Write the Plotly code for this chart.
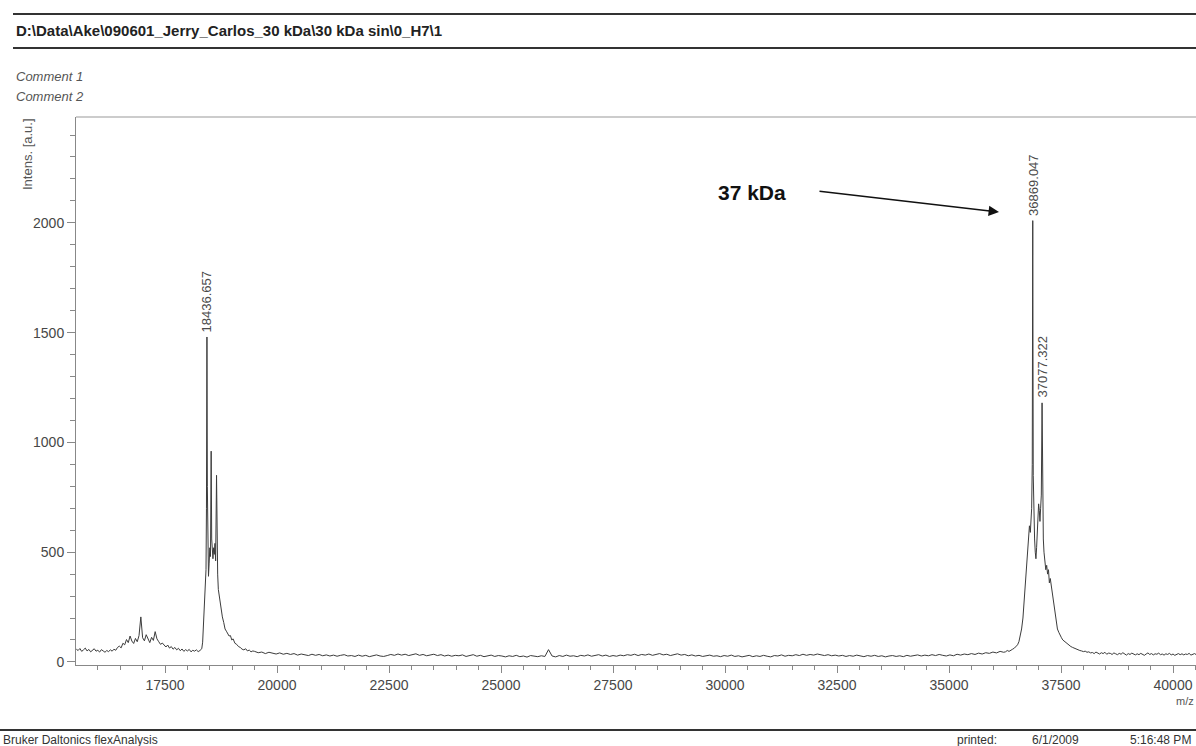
import plotly.graph_objects as go

# ---------------- data ----------------
# left baseline, m/z 15520 .. 18320, sampled every 40
left_start, left_step = 15520, 40
int_left = [58, 52, 61, 48, 55, 63, 50, 57, 46, 54,
            60, 49, 53, 45, 56, 50, 44, 52, 47, 55,
            49, 58, 53, 66, 72, 64, 85, 78, 102, 88,
            118, 95, 84, 107, 92, 120, 205, 110, 96, 124,
            101, 88, 112, 98, 138, 105, 92, 80, 86, 74,
            68, 77, 63, 70, 58, 66, 55, 62, 51, 59,
            48, 56, 50, 57, 46, 53, 49, 55, 47, 52, 60]

# first peak cluster (18436.657)
mz_p1 = [18340, 18360, 18380, 18400, 18415, 18425, 18436, 18445, 18455, 18470,
         18485, 18500, 18515, 18530, 18542, 18555, 18570, 18585, 18600, 18615,
         18630, 18650, 18662, 18675, 18690, 18710, 18730, 18750, 18780, 18810,
         18840, 18870, 18900, 18930, 18960, 18990, 19020, 19060, 19100, 19140,
         19180, 19220, 19260, 19300, 19340, 19380, 19420, 19460]
int_p1 = [90, 180, 300, 380, 420, 700, 1480, 800, 430, 390,
          450, 520, 480, 960, 560, 500, 470, 520, 490, 540,
          460, 850, 480, 400, 330, 300, 270, 240, 205, 180,
          150, 140, 130, 118, 120, 100, 105, 85, 80, 70,
          66, 58, 55, 60, 50, 54, 46, 50]

# middle baseline, m/z 19500 .. 36220, sampled every 80
mid_start, mid_step = 19500, 80
int_mid = [48, 42, 45, 38, 44, 40, 36, 41, 35, 39,
           34, 38, 31, 36, 33, 29, 35, 30, 34, 28,
           32, 27, 31, 26, 30, 33, 27, 29, 25, 31,
           26, 30, 24, 28, 32, 27, 25, 29, 34, 30,
           36, 31, 35, 29, 33, 37, 30, 34, 28, 32,
           35, 29, 33, 27, 31, 26, 30, 28, 32, 25,
           29, 33, 26, 30, 24, 28, 31, 25, 29, 27,
           23, 28, 25, 30, 24, 27, 22, 29, 26, 24,
           28, 25, 56, 27, 23, 29, 25, 31, 26, 28,
           24, 30, 27, 32, 26, 29, 33, 27, 31, 25,
           29, 26, 31, 28, 33, 30, 35, 29, 34, 31,
           36, 30, 34, 38, 32, 35, 29, 33, 37, 31,
           34, 28, 32, 27, 30, 25, 29, 31, 26, 28,
           24, 29, 26, 31, 25, 28, 23, 27, 30, 24,
           28, 25, 30, 26, 23, 29, 27, 32, 26, 30,
           28, 33, 29, 35, 30, 34, 31, 36, 32, 29,
           33, 28, 31, 27, 30, 25, 29, 26, 31, 27,
           24, 29, 26, 30, 25, 28, 23, 27, 29, 25,
           28, 24, 30, 26, 29, 32, 27, 31, 28, 33,
           29, 34, 30, 27, 32, 28, 35, 31, 36, 33,
           38, 34, 40, 36, 42, 39, 45, 41, 48, 44]

# second peak cluster (36869.047 / 37077.322)
mz_p2 = [36260, 36300, 36340, 36380, 36420, 36460, 36500, 36530, 36560, 36590,
         36620, 36650, 36680, 36710, 36740, 36770, 36795, 36815, 36830, 36845,
         36858, 36869, 36880, 36895, 36910, 36925, 36940, 36955, 36970, 36985,
         37000, 37015, 37030, 37045, 37060, 37077, 37090, 37105, 37120, 37140,
         37160, 37180, 37200, 37220, 37240, 37260, 37280, 37300, 37330, 37360,
         37390, 37420, 37450, 37480, 37510, 37540, 37570, 37600, 37640, 37680,
         37720, 37760, 37800, 37840, 37880, 37920, 37960, 38000, 38040, 38080,
         38120, 38160]
int_p2 = [46, 52, 48, 55, 58, 63, 70, 78, 92, 115,
          150, 200, 280, 380, 480, 560, 620, 590, 660, 700,
          900, 2010, 850, 620, 560, 500, 470, 520, 600, 680,
          720, 690, 640, 700, 760, 1180, 700, 560, 500, 460,
          420, 440, 400, 420, 360, 380, 350, 330, 290, 220,
          190, 150, 135, 120, 110, 100, 95, 88, 82, 76,
          70, 66, 62, 60, 55, 52, 50, 47, 49, 44,
          46, 41]

# right baseline, m/z 38200 .. 40520, sampled every 40
right_start, right_step = 38200, 40
int_right = [43, 38, 45, 40, 36, 42, 38, 44, 35, 40,
             39, 34, 41, 37, 33, 39, 35, 42, 36, 31,
             38, 34, 40, 36, 32, 37, 33, 39, 35, 30,
             36, 41, 34, 38, 32, 37, 35, 40, 33, 36,
             31, 37, 34, 39, 32, 36, 30, 35, 38, 33,
             37, 32, 36, 34, 39, 31, 35, 38, 33]

# labelled peaks
peak_mz = [18436.657, 36869.047, 37077.322]
peak_int = [1480, 2010, 1180]
peak_labels = ["18436.657", "36869.047", "37077.322"]

x_ticks_major = 2500
x_ticks_minor = 500
y_ticks_major = 500
y_ticks_minor = 100

header_text = "D:\\Data\\Ake\\090601_Jerry_Carlos_30 kDa\\30 kDa sin\\0_H7\\1"
comments = ["Comment 1", "Comment 2"]
footer_left = "Bruker Daltonics flexAnalysis"
footer_right = ["printed:", "6/1/2009", "5:16:48 PM"]

# ---------------- assemble spectrum ----------------
mz = ([left_start + left_step * i for i in range(len(int_left))] + mz_p1 +
      [mid_start + mid_step * i for i in range(len(int_mid))] + mz_p2 +
      [right_start + right_step * i for i in range(len(int_right))])
inten = int_left + int_p1 + int_mid + int_p2 + int_right

# ---------------- layout geometry ----------------
W, H = 1196, 746
ML, MR, MT, MB = 76, 0, 117, 81
PW, PH = W - ML - MR, H - MT - MB

def px(xp):
    return (xp - ML) / PW

def py(yp):
    return (H - MB - yp) / PH

FONT = "Liberation Sans, Arial, sans-serif"
TXT = "#474747"

fig = go.Figure()
fig.add_trace(go.Scatter(x=mz, y=inten, mode="lines",
                         line=dict(color="#3c3c3c", width=1),
                         hoverinfo="skip", showlegend=False))

annotations = []
# peak labels
for xm, yv, t in zip(peak_mz, peak_int, peak_labels):
    annotations.append(dict(x=xm, y=yv, xref="x", yref="y", text=t, textangle=-90,
                            showarrow=False, xanchor="center", yanchor="bottom", yshift=3,
                            font=dict(family=FONT, size=13, color="#4a4a4a")))

# header / comments
annotations.append(dict(x=px(14), y=py(31), xref="paper", yref="paper", text="<b>" + header_text + "</b>",
                        showarrow=False, xanchor="left", yanchor="middle",
                        font=dict(family=FONT, size=15, color="#222")))
for i, c in enumerate(comments):
    annotations.append(dict(x=px(14), y=py(76 + 20 * i), xref="paper", yref="paper",
                            text="<i>" + c + "</i>", showarrow=False, xanchor="left",
                            yanchor="middle", font=dict(family=FONT, size=13, color="#555")))
# y-axis title
annotations.append(dict(x=px(27), y=py(154), xref="paper", yref="paper", text="Intens. [a.u.]",
                        textangle=-90, showarrow=False, xanchor="center", yanchor="middle",
                        font=dict(family=FONT, size=13, color="#555")))
# x-axis title (at the right edge, below the last tick label)
annotations.append(dict(x=px(1196), y=py(701), xref="paper", yref="paper", text="m/z",
                        showarrow=False, xanchor="right", yanchor="middle",
                        font=dict(family=FONT, size=11, color="#555")))
# footer
annotations.append(dict(x=px(1), y=py(740), xref="paper", yref="paper", text=footer_left,
                        showarrow=False, xanchor="left", yanchor="middle",
                        font=dict(family=FONT, size=12, color="#333")))
for xp, t in zip([955, 1030, 1128], footer_right):
    annotations.append(dict(x=px(xp), y=py(740), xref="paper", yref="paper", text=t,
                            showarrow=False, xanchor="left", yanchor="middle",
                            font=dict(family=FONT, size=12, color="#333")))
# 37 kDa callout
annotations.append(dict(x=px(716), y=py(192), xref="paper", yref="paper", text="<b>37 kDa</b>",
                        showarrow=False, xanchor="left", yanchor="middle",
                        font=dict(family=FONT, size=21, color="#111")))
annotations.append(dict(x=px(999), y=py(212), xref="paper", yref="paper", text="",
                        showarrow=True, ax=818 - 999, ay=191 - 212, axref="pixel", ayref="pixel",
                        arrowhead=2, arrowsize=1.3, arrowwidth=1.6, arrowcolor="#111"))

shapes = [
    dict(type="line", xref="paper", yref="paper", x0=px(13), x1=px(W), y0=py(14), y1=py(14),
         line=dict(color="#333", width=2)),
    dict(type="line", xref="paper", yref="paper", x0=px(13), x1=px(W), y0=py(48), y1=py(48),
         line=dict(color="#333", width=2)),
    dict(type="line", xref="paper", yref="paper", x0=px(0), x1=px(W), y0=py(730), y1=py(730),
         line=dict(color="#333", width=2)),
    dict(type="line", xref="paper", yref="paper", x0=0, x1=1, y0=1, y1=1,
         line=dict(color="#999", width=1)),
]

fig.update_layout(
    width=W, height=H, margin=dict(l=ML, r=MR, t=MT, b=MB, pad=0),
    paper_bgcolor="white", plot_bgcolor="white",
    annotations=annotations, shapes=shapes, showlegend=False,
    font=dict(family=FONT, color=TXT),
    xaxis=dict(range=[15513, 40513], tick0=0, dtick=x_ticks_major, tickformat="d",
               ticks="outside", ticklen=7, tickcolor="#888", showline=True, linecolor="#888",
               linewidth=1, showgrid=False, zeroline=False,
               tickfont=dict(family=FONT, size=14, color=TXT),
               minor=dict(dtick=x_ticks_minor, ticks="outside", ticklen=4, tickcolor="#888")),
    yaxis=dict(range=[-14, 2482], tick0=0, dtick=y_ticks_major, tickformat="d",
               ticks="outside", ticklen=8, tickcolor="#888", showline=True, linecolor="#888",
               linewidth=1, showgrid=False, zeroline=False,
               tickfont=dict(family=FONT, size=14, color=TXT),
               minor=dict(dtick=y_ticks_minor, ticks="outside", ticklen=5, tickcolor="#888")),
)

fig.write_html("out.html")
